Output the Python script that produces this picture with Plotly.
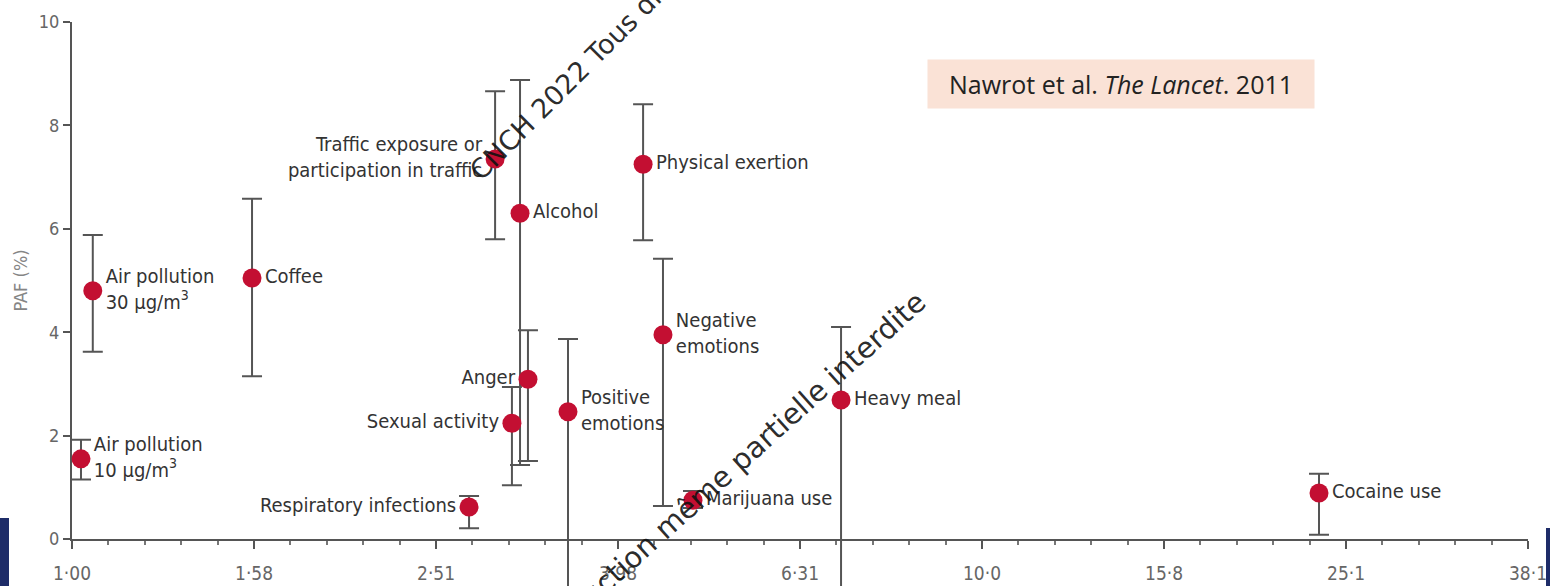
import plotly.graph_objects as go

# ---------------- data ----------------
factors = [
    "Air pollution<br>10 µg/m<sup>3</sup>",
    "Air pollution<br>30 µg/m<sup>3</sup>",
    "Coffee",
    "Traffic exposure or<br>participation in traffic",
    "Alcohol",
    "Anger",
    "Sexual activity",
    "Positive<br>emotions",
    "Respiratory infections",
    "Physical exertion",
    "Negative<br>emotions",
    "Marijuana use",
    "Heavy meal",
    "Cocaine use",
]
odds_ratio = [1.023, 1.054, 1.577, 2.917, 3.107, 3.170, 3.044, 3.508, 2.731, 4.242, 4.461, 4.813, 7.00, 23.46]
paf = [1.55, 4.80, 5.05, 7.35, 6.30, 3.09, 2.24, 2.46, 0.62, 7.25, 3.95, 0.75, 2.69, 0.89]
paf_low = [1.15, 3.62, 3.15, 5.80, 1.43, 1.51, 1.04, -1.0, 0.21, 5.78, 0.64, 0.60, -1.0, 0.08]
paf_high = [1.92, 5.88, 6.58, 8.66, 8.88, 4.04, 2.94, 3.87, 0.83, 8.41, 5.42, 0.93, 4.10, 1.26]

x_tick_vals = [1.0, 1.585, 2.512, 3.981, 6.310, 10.0, 15.85, 25.12, 39.81]
x_tick_text = ["1·00", "1·58", "2·51", "3·98", "6·31", "10·0", "15·8", "25·1", "38·1"]
y_tick_vals = [0, 2, 4, 6, 8, 10]

citation = "Nawrot et al. <i>The Lancet</i>. 2011"
watermark_1 = "CNCH 2022 Tous droits réservés"
watermark_2 = "Reproduction même partielle interdite"

# ---------------- style ----------------
left_labels = {"Traffic exposure or<br>participation in traffic", "Anger",
               "Sexual activity", "Respiratory infections"}
text_pos = ["middle left" if f in left_labels else "middle right" for f in factors]

W, H = 1550, 586
ML, MR, MT, MB = 72, 22, 22, 0
AXIS_Y_PX = 539                      # pixel row of PAF = 0
PW, PH = W - ML - MR, H - MT - MB
D = (H - MB - AXIS_Y_PX) / PH        # bottom of main y domain
Y_MAX = 10
Y2_MIN = -Y_MAX * D / (1 - D)        # same scale, extended to figure bottom

LABEL_FONT = "Liberation Sans Narrow, DejaVu Sans Condensed, Arial Narrow, sans-serif"
GRAY = "#555555"


def paper(xp, yp):
    return (xp - ML) / PW, (H - MB - yp) / PH


err_plus = [h - v for h, v in zip(paf_high, paf)]
err_minus = [v - l for v, l in zip(paf, paf_low)]

fig = go.Figure()
# empty trace so the visible axes subplot is created
fig.add_trace(go.Scatter(x=[], y=[], xaxis="x", yaxis="y", showlegend=False))
fig.add_trace(go.Scatter(
    x=odds_ratio, y=paf, mode="markers+text", xaxis="x2", yaxis="y2",
    text=factors, textposition=text_pos,
    textfont=dict(family=LABEL_FONT, size=20, color="#333333"),
    marker=dict(size=19, color="#C30F32"),
    error_y=dict(type="data", symmetric=False, array=err_plus, arrayminus=err_minus,
                 color=GRAY, thickness=2, width=10),
    cliponaxis=False, showlegend=False, hoverinfo="x+y",
))

minor_vals = [10 ** (0.04 * k) for k in range(41) if k % 5 != 0]

fig.update_layout(
    xaxis=dict(
        type="log", range=[0, 1.6], domain=[0, 1], anchor="y",
        showgrid=False, zeroline=False,
        showline=True, linecolor=GRAY, linewidth=2,
        tickmode="array", tickvals=x_tick_vals, ticktext=x_tick_text,
        ticks="outside", ticklen=8, tickwidth=2, tickcolor=GRAY,
        ticklabelstandoff=8,
        tickfont=dict(family=LABEL_FONT, size=19, color="#666666"),
        minor=dict(tickmode="array", tickvals=minor_vals, ticks="outside", ticklen=4,
                   tickwidth=1.5, tickcolor="#777777"),
    ),
    yaxis=dict(
        range=[0, Y_MAX], domain=[D, 1], anchor="x",
        showgrid=False, zeroline=False,
        showline=True, linecolor=GRAY, linewidth=2,
        tickmode="array", tickvals=y_tick_vals,
        ticks="outside", ticklen=7, tickwidth=2, tickcolor=GRAY,
        tickfont=dict(family=LABEL_FONT, size=18, color="#666666"),
        title=dict(text="PAF (%)", font=dict(family=LABEL_FONT, size=18, color="#858585"),
                   standoff=6),
    ),
    xaxis2=dict(type="log", range=[0, 1.6], domain=[0, 1], anchor="y2", visible=False),
    yaxis2=dict(range=[Y2_MIN, Y_MAX], domain=[0, 1], anchor="x2", visible=False),
)

cx, cy = paper(1121, 84)
annotations = [
    dict(x=cx, y=cy, xref="paper", yref="paper", text=citation, showarrow=False,
         xanchor="center", yanchor="middle", bgcolor="#FAE2D6", borderpad=7,
         width=372, align="center",
         font=dict(family="Open Sans, sans-serif", size=25, color="#222222")),
]
wx, wy = paper(627, 22)
annotations.append(dict(x=wx, y=wy, xref="paper", yref="paper", text=watermark_1,
                        showarrow=False, textangle=-45, xanchor="center", yanchor="middle",
                        font=dict(family="DejaVu Sans, sans-serif", size=27,
                                  color="rgba(15,15,15,0.9)")))
wx, wy = paper(715, 483)
annotations.append(dict(x=wx, y=wy, xref="paper", yref="paper", text=watermark_2,
                        showarrow=False, textangle=-42, xanchor="center", yanchor="middle",
                        font=dict(family="DejaVu Sans, sans-serif", size=29,
                                  color="rgba(15,15,15,0.9)")))

x0, y0 = paper(0, 518)
x1, y1 = paper(9, 586)
x2, y2 = paper(1546, 528)
x3, _ = paper(1550, 586)
shapes = [
    dict(type="rect", xref="paper", yref="paper", x0=x0, x1=x1, y0=y1, y1=y0,
         fillcolor="#1E2C68", line=dict(width=0), layer="below"),
    dict(type="rect", xref="paper", yref="paper", x0=x2, x1=x3, y0=y1, y1=y2,
         fillcolor="#1E2C68", line=dict(width=0), layer="below"),
]

fig.update_layout(
    width=W, height=H, margin=dict(l=ML, r=MR, t=MT, b=MB, autoexpand=False),
    paper_bgcolor="white", plot_bgcolor="rgba(0,0,0,0)",
    annotations=annotations, shapes=shapes,
)

fig.write_html("out.html", config={"displayModeBar": False},
               post_script="document.body.style.margin='0';")
